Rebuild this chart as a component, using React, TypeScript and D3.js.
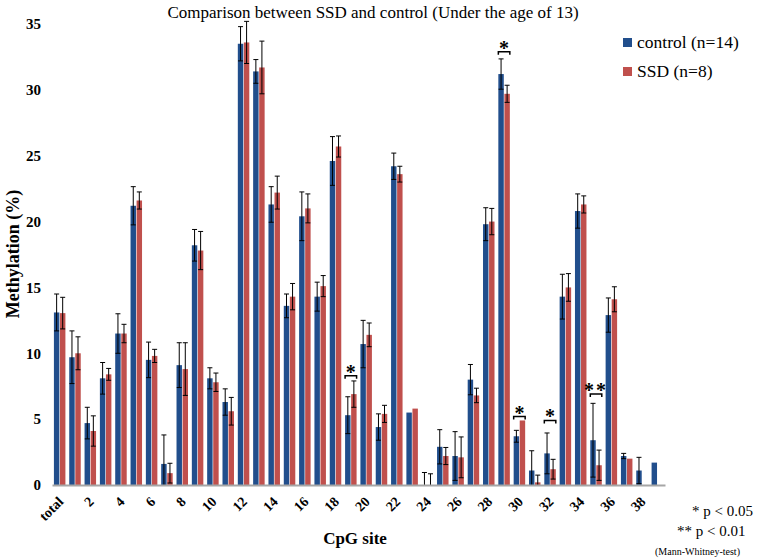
import { useEffect, useRef } from "react";
import * as d3 from "d3";

// CpG sites (total + sites 1..39)
const categories = [
  "total", "1", "2", "3", "4", "5", "6", "7", "8", "9",
  "10", "11", "12", "13", "14", "15", "16", "17", "18", "19",
  "20", "21", "22", "23", "24", "25", "26", "27", "28", "29",
  "30", "31", "32", "33", "34", "35", "36", "37", "38", "39",
];
const tickLabels = [
  "total", "2", "4", "6", "8", "10", "12", "14", "16", "18",
  "20", "22", "24", "26", "28", "30", "32", "34", "36", "38",
];
const yTicks = [0, 5, 10, 15, 20, 25, 30, 35];

const controlMean = [
  13.1, 9.7, 4.7, 8.1, 11.5, 21.2, 9.5, 1.6, 9.1, 18.2,
  8.1, 6.3, 33.5, 31.4, 21.3, 13.6, 20.4, 14.3, 24.6, 5.3,
  10.7, 4.4, 24.2, 5.5, 0, 2.9, 2.2, 8.0, 19.8, 31.2,
  3.7, 1.1, 2.4, 14.3, 20.8, 3.4, 12.9, 2.2, 1.1, 1.7,
];
const controlErr = [
  1.4, 2.0, 1.2, 1.2, 1.5, 1.45, 1.35, 2.2, 1.7, 1.2,
  0.8, 1.0, 1.3, 0.9, 1.35, 0.9, 1.85, 1.1, 1.85, 1.4,
  1.8, 1.0, 1.0, 0, 0.95, 1.3, 1.85, 1.15, 1.25, 1.15,
  0.45, 1.5, 1.55, 1.7, 1.3, 2.8, 1.3, 0.2, 1.0, 0,
];
const ssdMean = [
  13.05, 10.0, 4.1, 8.4, 11.5, 21.6, 9.8, 0.9, 8.8, 17.8,
  7.8, 5.6, 33.6, 31.7, 22.2, 14.3, 21.0, 15.1, 25.7, 6.9,
  11.4, 5.4, 23.6, 5.8, 0, 2.2, 2.1, 6.8, 20.0, 29.7,
  4.9, 0.2, 1.2, 15.0, 21.3, 1.5, 14.1, 2.0, 0, 0,
];
const ssdErr = [
  1.2, 1.25, 1.15, 0.45, 0.7, 0.65, 0.5, 0.75, 2.0, 1.45,
  0.7, 1.05, 1.6, 2.0, 1.25, 1.0, 1.1, 0.8, 0.8, 1.0,
  0.9, 0.65, 0.6, 0, 0.85, 0.65, 1.55, 0.55, 1.0, 0.65,
  0, 0.55, 0.75, 1.05, 0.65, 1.15, 0.95, 0, 0, 0,
];

// significant sites: bracket level in % methylation
const sigSites = ["19", "29", "30", "32", "35"];
const sigLabels = ["*", "*", "*", "*", "**"];
const sigLevels = [8.3, 32.9, 5.2, 4.9, 6.9];

const seriesNames = ["control", "SSD"];
const seriesLegend = ["control (n=14)", "SSD (n=8)"];
const colors = ["#214E8C", "#C0504D"];

export default function App() {
  const svgRef = useRef<SVGSVGElement>(null);
  const width = 758;
  const height = 559;

  useEffect(() => {
    if (!svgRef.current) return;
    d3.select(svgRef.current).selectAll("*").remove();

    const svg = d3.select(svgRef.current);
    const serif = "Liberation Serif, Times New Roman, serif";

    const x = d3
      .scaleBand()
      .domain(categories)
      .range([52, 665])
      .paddingInner(0.25)
      .paddingOuter(0.125);
    const xs = d3
      .scaleBand()
      .domain(seriesNames)
      .range([0, x.bandwidth()])
      .paddingInner(0.1);
    const y = d3.scaleLinear().domain([0, 35]).range([485, 24]);

    const rows = categories.map((c, i) => ({
      cat: c,
      vals: [
        { s: "control", v: controlMean[i], e: controlErr[i] },
        { s: "SSD", v: ssdMean[i], e: ssdErr[i] },
      ],
    }));

    // bars
    const groups = svg
      .append("g")
      .selectAll("g")
      .data(rows)
      .enter()
      .append("g")
      .attr("transform", (d) => `translate(${x(d.cat)},0)`);

    groups
      .selectAll("rect")
      .data((d) => d.vals)
      .enter()
      .append("rect")
      .attr("x", (d) => xs(d.s)!)
      .attr("y", (d) => y(d.v))
      .attr("width", xs.bandwidth())
      .attr("height", (d) => y(0) - y(d.v))
      .attr("fill", (d, i) => colors[i]);

    // error bars
    const err = groups
      .selectAll("g.err")
      .data((d) => d.vals.filter((v) => v.e > 0))
      .enter()
      .append("g")
      .attr("class", "err")
      .attr("stroke", "#000")
      .attr("stroke-width", 1);
    const cx = (d: { s: string }) => xs(d.s)! + xs.bandwidth() / 2;
    err
      .append("line")
      .attr("x1", cx)
      .attr("x2", cx)
      .attr("y1", (d) => y(d.v + d.e))
      .attr("y2", (d) => y(Math.max(0, d.v - d.e)));
    err
      .append("line")
      .attr("x1", (d) => cx(d) - 2.5)
      .attr("x2", (d) => cx(d) + 2.5)
      .attr("y1", (d) => y(d.v + d.e))
      .attr("y2", (d) => y(d.v + d.e));
    err
      .filter((d) => d.v - d.e > 0)
      .append("line")
      .attr("x1", (d) => cx(d) - 2.5)
      .attr("x2", (d) => cx(d) + 2.5)
      .attr("y1", (d) => y(d.v - d.e))
      .attr("y2", (d) => y(d.v - d.e));

    // x axis
    const xAxis = svg
      .append("g")
      .attr("transform", `translate(0,${y(0)})`)
      .call(d3.axisBottom(x).tickValues(tickLabels).tickSize(0).tickSizeOuter(0));
    xAxis.select(".domain").attr("stroke", "#A6A6A6").attr("stroke-width", 2);
    xAxis
      .selectAll("text")
      .attr("x", 0)
      .attr("y", 0)
      .attr("dy", "0.35em")
      .attr("transform", "translate(1,14) rotate(-45)")
      .attr("text-anchor", "end")
      .attr("font-family", serif)
      .attr("font-weight", "bold")
      .attr("font-size", 14)
      .attr("fill", "#000");

    // y axis
    const yAxis = svg
      .append("g")
      .attr("transform", "translate(43,0)")
      .call(d3.axisLeft(y).tickValues(yTicks).tickSize(0).tickPadding(2));
    yAxis.select(".domain").remove();
    yAxis
      .selectAll("text")
      .attr("font-family", serif)
      .attr("font-weight", "bold")
      .attr("font-size", 15)
      .attr("fill", "#000");

    // significance brackets
    sigSites.forEach((site, i) => {
      const x0 = x(site)!;
      const x1 = x0 + x.bandwidth();
      const by = y(sigLevels[i]);
      svg
        .append("path")
        .attr("d", `M${x0},${by + 3}V${by}H${x1}V${by + 3}`)
        .attr("fill", "none")
        .attr("stroke", "#000")
        .attr("stroke-width", 1.5);
      svg
        .append("text")
        .attr("x", (x0 + x1) / 2)
        .attr("y", by + 3)
        .attr("text-anchor", "middle")
        .attr("font-family", serif)
        .attr("font-weight", "bold")
        .attr("font-size", 20)
        .attr("letter-spacing", sigLabels[i].length > 1 ? 2 : 0)
        .text(sigLabels[i]);
    });

    // title
    svg
      .append("text")
      .attr("x", 373)
      .attr("y", 18)
      .attr("text-anchor", "middle")
      .attr("font-family", serif)
      .attr("font-size", 17)
      .text("Comparison between SSD and control (Under the age of 13)");

    // axis titles
    svg
      .append("text")
      .attr("x", 355)
      .attr("y", 544)
      .attr("text-anchor", "middle")
      .attr("font-family", serif)
      .attr("font-weight", "bold")
      .attr("font-size", 17)
      .text("CpG site");
    svg
      .append("text")
      .attr("transform", "rotate(-90)")
      .attr("x", -254)
      .attr("y", 19)
      .attr("text-anchor", "middle")
      .attr("font-family", serif)
      .attr("font-weight", "bold")
      .attr("font-size", 18)
      .text("Methylation (%)");

    // legend
    const legend = svg.append("g");
    seriesLegend.forEach((name, i) => {
      legend
        .append("rect")
        .attr("x", 623)
        .attr("y", 38 + i * 29)
        .attr("width", 9)
        .attr("height", 9)
        .attr("fill", colors[i]);
      legend
        .append("text")
        .attr("x", 637)
        .attr("y", 48 + i * 29)
        .attr("font-family", serif)
        .attr("font-size", 17.5)
        .text(name);
    });

    // footnote
    const notes = [
      { t: "* p < 0.05", x: 692, y: 516, s: 15 },
      { t: "** p < 0.01", x: 677, y: 536, s: 15 },
      { t: "(Mann-Whitney-test)", x: 655, y: 555, s: 10 },
    ];
    notes.forEach((n) => {
      svg
        .append("text")
        .attr("x", n.x)
        .attr("y", n.y)
        .attr("font-family", serif)
        .attr("font-size", n.s)
        .text(n.t);
    });
  }, []);

  return (
    <div style={{ position: "absolute", left: 0, top: 0 }}>
      <svg ref={svgRef} width={width} height={height} style={{ display: "block", background: "#fff" }} />
    </div>
  );
}
